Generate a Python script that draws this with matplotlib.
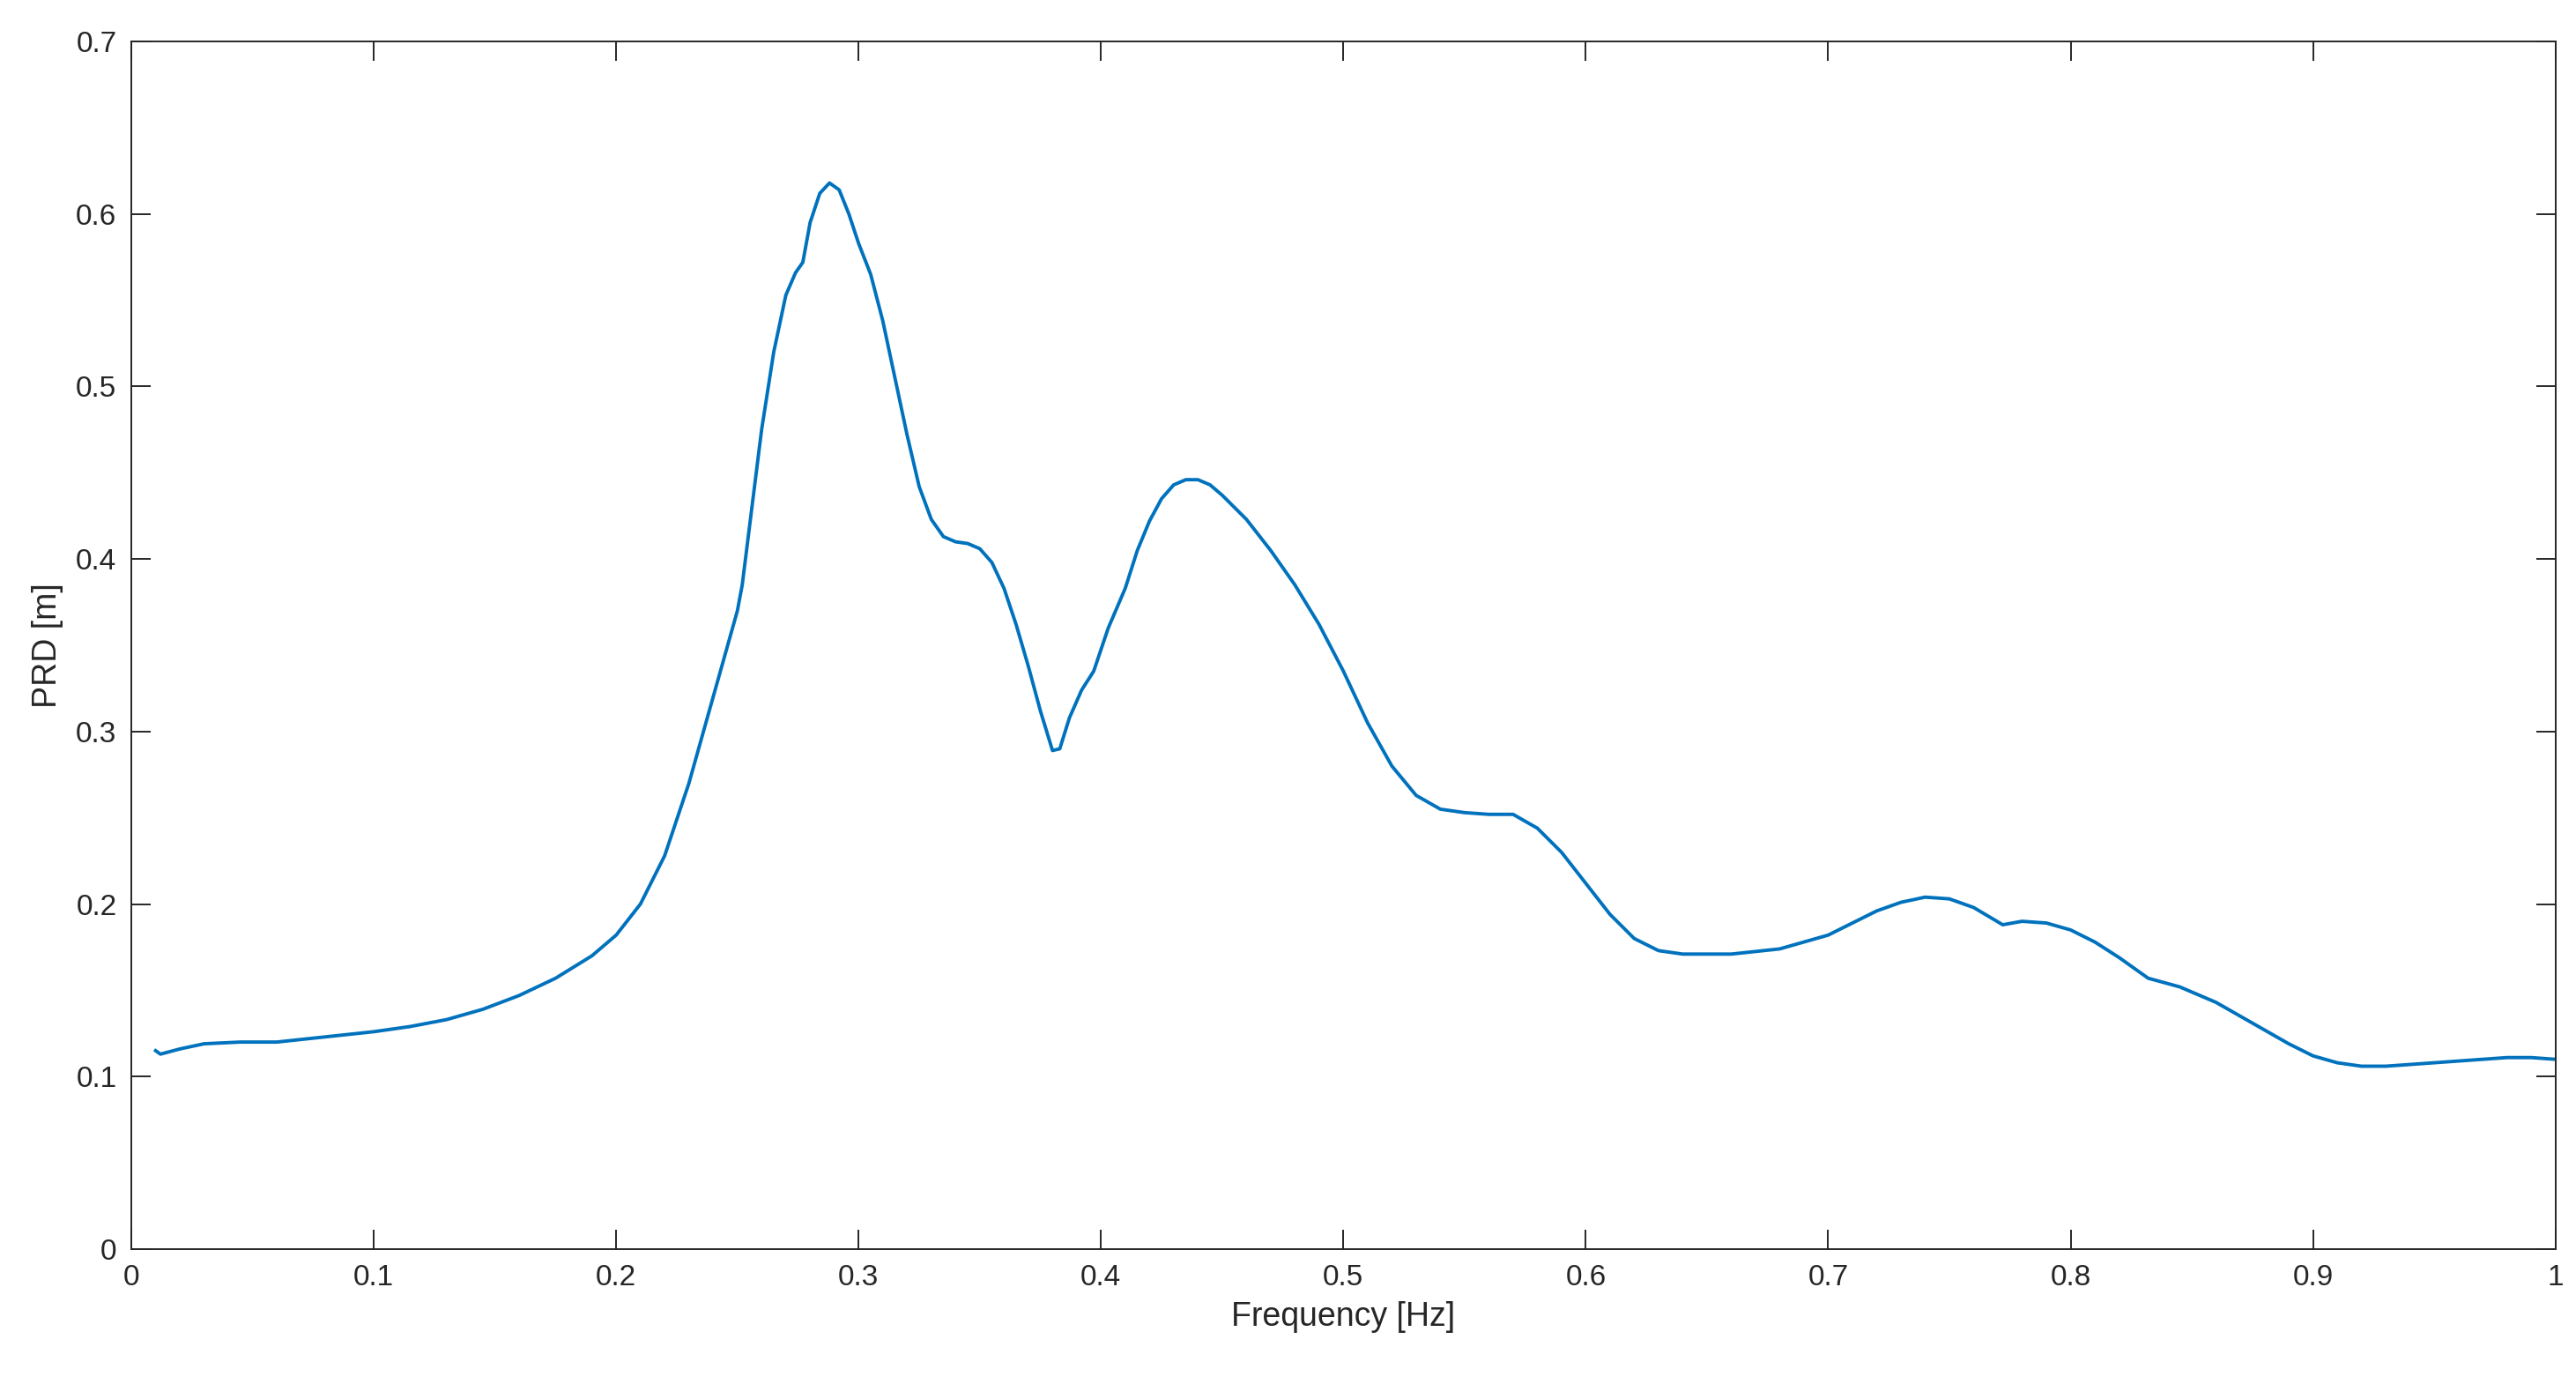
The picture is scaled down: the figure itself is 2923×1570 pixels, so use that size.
import numpy as np
import matplotlib
matplotlib.use('Agg')
import matplotlib.pyplot as plt

plt.rcParams['font.family'] = ['Liberation Sans', 'DejaVu Sans']

# PRD values
freq = [0.010, 0.012, 0.020, 0.030, 0.045, 0.060, 0.080, 0.100, 0.115, 0.130, 0.145,
        0.160, 0.175, 0.190, 0.200, 0.210, 0.220, 0.230, 0.240, 0.250, 0.252, 0.256,
        0.260, 0.265, 0.270, 0.274, 0.277, 0.280, 0.284, 0.288, 0.292, 0.296, 0.300,
        0.305, 0.310, 0.315, 0.320, 0.325, 0.330, 0.335, 0.340, 0.345, 0.350, 0.355,
        0.360, 0.365, 0.370, 0.375, 0.380, 0.383, 0.387, 0.392, 0.397, 0.403, 0.410,
        0.415, 0.420, 0.425, 0.430, 0.435, 0.440, 0.445, 0.450, 0.455, 0.460, 0.470,
        0.480, 0.490, 0.500, 0.510, 0.520, 0.530, 0.540, 0.550, 0.560, 0.570, 0.580,
        0.590, 0.600, 0.610, 0.620, 0.630, 0.640, 0.660, 0.680, 0.700, 0.710, 0.720,
        0.730, 0.740, 0.750, 0.760, 0.772, 0.780, 0.790, 0.800, 0.810, 0.820, 0.832,
        0.845, 0.860, 0.870, 0.880, 0.890, 0.900, 0.910, 0.920, 0.930, 0.940, 0.950,
        0.960, 0.970, 0.980, 0.990, 1.000]
prd = [0.115, 0.113, 0.116, 0.119, 0.120, 0.120, 0.123, 0.126, 0.129, 0.133, 0.139,
       0.147, 0.157, 0.170, 0.182, 0.200, 0.228, 0.270, 0.320, 0.370, 0.385, 0.430,
       0.475, 0.520, 0.553, 0.566, 0.572, 0.595, 0.612, 0.618, 0.614, 0.600, 0.583,
       0.565, 0.538, 0.505, 0.472, 0.442, 0.423, 0.413, 0.410, 0.409, 0.406, 0.398,
       0.383, 0.362, 0.338, 0.312, 0.289, 0.290, 0.308, 0.324, 0.335, 0.360, 0.383,
       0.405, 0.422, 0.435, 0.443, 0.446, 0.446, 0.443, 0.437, 0.430, 0.423, 0.405,
       0.385, 0.362, 0.335, 0.305, 0.280, 0.263, 0.255, 0.253, 0.252, 0.252, 0.244,
       0.230, 0.212, 0.194, 0.180, 0.173, 0.171, 0.171, 0.174, 0.182, 0.189, 0.196,
       0.201, 0.204, 0.203, 0.198, 0.188, 0.190, 0.189, 0.185, 0.178, 0.169, 0.157,
       0.152, 0.143, 0.135, 0.127, 0.119, 0.112, 0.108, 0.106, 0.106, 0.107, 0.108,
       0.109, 0.110, 0.111, 0.111, 0.110]

fig = plt.figure(figsize=(29.23, 15.70), dpi=100)
ax = fig.add_axes([0.051, 0.0975, 0.941, 0.8725])
ax.plot(freq, prd, color='#0072BD', linewidth=2.8, solid_joinstyle='round')

ax.set_xlim(0, 1)
ax.set_ylim(0, 0.7)
ax.set_xticks(np.arange(0, 1.01, 0.1))
ax.set_xticklabels(['0', '0.1', '0.2', '0.3', '0.4', '0.5', '0.6', '0.7', '0.8', '0.9', '1'])
ax.set_yticks(np.arange(0, 0.71, 0.1))
ax.set_yticklabels(['0', '0.1', '0.2', '0.3', '0.4', '0.5', '0.6', '0.7'])
ax.tick_params(direction='in', top=True, right=True, length=16, width=1.4,
               labelsize=24, colors='#262626', pad=12)
for s in ax.spines.values():
    s.set_linewidth(1.4)
    s.set_color('#262626')
ax.set_xlabel('Frequency [Hz]', fontsize=27, color='#262626', labelpad=8)
ax.set_ylabel('PRD [m]', fontsize=27, color='#262626', labelpad=10)

fig.savefig('out.png', dpi=100)
